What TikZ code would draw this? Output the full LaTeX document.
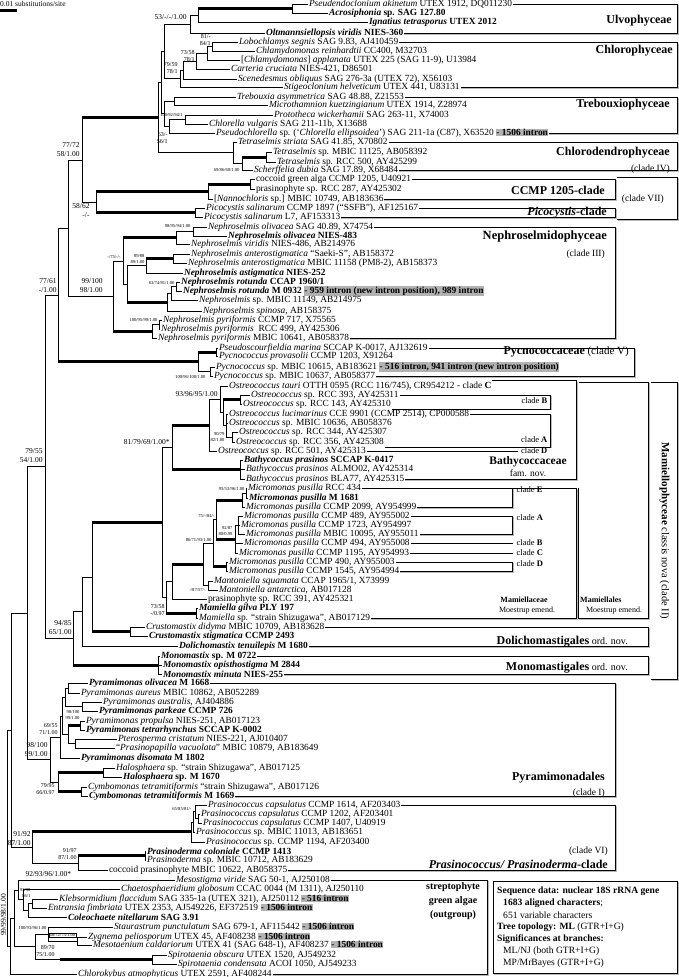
\documentclass[tikz,border=0pt]{standalone}
\usepackage{fontspec}
\setmainfont{Liberation Serif}
\usetikzlibrary{calc}
\definecolor{hlgray}{gray}{0.70}
\newcommand\hlt[1]{{\setlength{\fboxsep}{0.3pt}\colorbox{hlgray}{#1}}}
\newcommand\lf[4]{\coordinate (#1) at (#2,#3);\node[leaf] (#1-l) at (#1) {#4};}
\newcommand\kid[2]{\draw[br] (#1) |- (#2);}
\newcommand\kidt[2]{\draw[br] (#1) |- (#2);\draw[thk] (#1 |- #2) -- (#2);}
\newcommand\brk[3]{%
 \draw[bshade] ($(#1.east -| #3)+(1.2,1.2)$) -- ($(#2.east -| #3)+(1.2,1.2)$) -- ($(#2.east)+(0,1.2)$);
 \draw[bline] (#1.east) -- (#1.east -| #3) -- (#2.east -| #3) -- (#2.east);}
\begin{document}
\begin{tikzpicture}[x=1pt,y=-1pt,
 br/.style={line width=0.6pt},
 thk/.style={line width=3pt},
 leaf/.style={anchor=west, inner sep=0.8pt, font=\fontsize{9.4}{10}\selectfont},
 bs/.style={anchor=east, inner sep=0.3pt, align=right, font=\fontsize{7.5}{9}\selectfont},
 bsm/.style={anchor=east, inner sep=0.3pt, align=right, font=\fontsize{6}{7}\selectfont},
 bst/.style={anchor=east, inner sep=0.3pt, align=right, font=\fontsize{4.6}{5.2}\selectfont},
 bline/.style={line width=0.5pt},
 bshade/.style={line width=1.2pt, gray!55},
 cls/.style={inner sep=0pt, font=\fontsize{12}{13}\selectfont\bfseries},
 sub/.style={inner sep=0pt, font=\fontsize{9.5}{11}\selectfont},
 cl/.style={inner sep=0.5pt, font=\fontsize{8.5}{9}\selectfont},
 seq/.style={anchor=west, inner sep=0pt, font=\fontsize{9.6}{10}\selectfont}]
\useasboundingbox (0,0) rectangle (679,977);

% scale bar
\node[anchor=west, inner sep=0pt, font=\fontsize{7.5}{8}\selectfont] (scl) at (0,3.5) {0.01 substitutions/site};
\coordinate (sb1) at (0,10); \coordinate (sb2) at (17,10);
\draw[line width=3pt] (sb1) -- (sb2);

% ---------------- leaves
\lf{pseud}{308}{4}{\textit{Pseudendoclonium akinetum} UTEX 1912, DQ011230}
\lf{acros}{328}{13}{\textbf{\textit{Acrosiphonia} sp. SAG 127.80}}
\lf{ignat}{368}{22}{\textbf{\textit{Ignatius tetrasporus} UTEX 2012}}
\lf{oltm}{265}{33}{\textbf{\textit{Oltmannsiellopsis viridis} NIES-360}}
\lf{lobo}{238}{42}{\textit{Lobochlamys segnis} SAG 9.83, AJ410459}
\lf{chlre}{255}{51}{\textit{Chlamydomonas reinhardtii} CC400, M32703}
\lf{appl}{240}{60}{[\textit{Chlamydomonas}] \textit{applanata} UTEX 225 (SAG 11-9), U13984}
\lf{cart}{230}{69}{\textit{Carteria cruciata} NIES-421, D86501}
\lf{scen}{237}{79}{\textit{Scenedesmus obliquus} SAG 276-3a (UTEX 72), X56103}
\lf{stig}{283}{87}{\textit{Stigeoclonium helveticum} UTEX 441, U83131}
\lf{treb}{236}{97}{\textit{Trebouxia asymmetrica} SAG 48.88, Z21553}
\lf{micr}{268}{105}{\textit{Microthamnion kuetzingianum} UTEX 1914, Z28974}
\lf{prot}{273}{115}{\textit{Prototheca wickerhamii} SAG 263-11, X74003}
\lf{chlv}{208}{124}{\textit{Chlorella vulgaris} SAG 211-11b, X13688}
\lf{pchl}{215}{133}{\textit{Pseudochlorella} sp. (`\textit{Chlorella ellipsoidea}') SAG 211-1a (C87), X63520 \hlt{\textbf{- 1506 intron}}}
\lf{tstr}{237}{142}{\textit{Tetraselmis striata} SAG 41.85, X70802}
\lf{tmb}{272}{152}{\textit{Tetraselmis} sp. MBIC 11125, AB058392}
\lf{trcc}{276}{162}{\textit{Tetraselmis} sp. RCC 500, AY425299}
\lf{sche}{253}{170}{\textit{Scherffelia dubia} SAG 17.89, X68484}
\lf{cocc}{255}{179}{coccoid green alga CCMP 1205, U40921}
\lf{pras287}{255}{189}{prasinophyte sp. RCC 287, AY425302}
\lf{nanno}{213}{199}{[\textit{Nannochloris} sp.] MBIC 10749, AB183636}
\lf{pic1}{205}{208}{\textit{Picocystis salinarum} CCMP 1897 (``SSFB''), AF125167}
\lf{pic2}{203}{217}{\textit{Picocystis salinarum} L7, AF153313}
\lf{nol1}{207}{227}{\textit{Nephroselmis olivacea} SAG 40.89, X74754}
\lf{nol2}{227}{236}{\textbf{\textit{Nephroselmis olivacea} NIES-483}}
\lf{nvir}{190}{244}{\textit{Nephroselmis viridis} NIES-486, AB214976}
\lf{nant1}{190}{254}{\textit{Nephroselmis anterostigmatica} ``Saeki-S'', AB158372}
\lf{nant2}{187}{263}{\textit{Nephroselmis anterostigmatica} MBIC 11158 (PM8-2), AB158373}
\lf{nast}{183}{273}{\textbf{\textit{Nephroselmis astigmatica} NIES-252}}
\lf{nrot1}{180}{282}{\textbf{\textit{Nephroselmis rotunda} CCAP 1960/1}}
\lf{nrot2}{182}{291}{\textbf{\textit{Nephroselmis rotunda} M 0932} \hlt{\textbf{- 959 intron (new intron position), 989 intron}}}
\lf{nsp}{198}{300}{\textit{Nephroselmis} sp. MBIC 11149, AB214975}
\lf{nspi}{202}{311}{\textit{Nephroselmis spinosa}, AB158375}
\lf{npyr1}{162}{320}{\textit{Nephroselmis pyriformis} CCMP 717, X75565}
\lf{npyr2}{160}{329}{\textit{Nephroselmis pyriformis} \ RCC 499, AY425306}
\lf{npyr3}{157}{338}{\textit{Nephroselmis pyriformis} MBIC 10641, AB058378}
\lf{pmar}{218}{348}{\textit{Pseudoscourfieldia marina} SCCAP K-0017, AJ132619}
\lf{pprov}{218}{356}{\textit{Pycnococcus provasolii} CCMP 1203, X91264}
\lf{pyc1}{215}{367}{\textit{Pycnococcus} sp. MBIC 10615, AB183621 \hlt{\textbf{- 516 intron, 941 intron (new intron position)}}}
\lf{pyc2}{213}{376}{\textit{Pycnococcus} sp. MBIC 10637, AB058377}
\lf{otau}{228}{386}{\textit{Ostreococcus tauri} OTTH 0595 (RCC 116/745), CR954212 - clade \textbf{C}}
\lf{o393}{250}{395}{\textit{Ostreococcus} sp. RCC 393, AY425311}
\lf{o143}{242}{404}{\textit{Ostreococcus} sp. RCC 143, AY425310}
\lf{oluc}{228}{414}{\textit{Ostreococcus lucimarinus} CCE 9901 (CCMP 2514), CP000588}
\lf{o10636}{228}{423}{\textit{Ostreococcus} sp. MBIC 10636, AB058376}
\lf{o344}{238}{432}{\textit{Ostreococcus} sp. RCC 344, AY425307}
\lf{o356}{235}{442}{\textit{Ostreococcus} sp. RCC 356, AY425308}
\lf{o501}{217}{451}{\textit{Ostreococcus} sp. RCC 501, AY425313}
\lf{bsc}{243}{460}{\textbf{\textit{Bathycoccus prasinos} SCCAP K-0417}}
\lf{bal}{245}{469}{\textit{Bathycoccus prasinos} ALMO02, AY425314}
\lf{bbl}{245}{479}{\textit{Bathycoccus prasinos} BLA77, AY425315}
\lf{m434}{247}{488}{\textit{Micromonas pusilla} RCC 434}
\lf{m1681}{248}{498}{\textbf{\textit{Micromonas pusilla} M 1681}}
\lf{m2099}{245}{507}{\textit{Micromonas pusilla} CCMP 2099, AY954999}
\lf{m489}{243}{516}{\textit{Micromonas pusilla} CCMP 489, AY955002}
\lf{m1723}{240}{525}{\textit{Micromonas pusilla} CCMP 1723, AY954997}
\lf{m10095}{245}{534}{\textit{Micromonas pusilla} MBIC 10095, AY955011}
\lf{m494}{243}{543}{\textit{Micromonas pusilla} CCMP 494, AY955008}
\lf{m1195}{238}{553}{\textit{Micromonas pusilla} CCMP 1195, AY954993}
\lf{m490}{228}{562}{\textit{Micromonas pusilla} CCMP 490, AY955003}
\lf{m1545}{228}{571}{\textit{Micromonas pusilla} CCMP 1545, AY954994}
\lf{mant1}{213}{581}{\textit{Mantoniella squamata} CCAP 1965/1, X73999}
\lf{mant2}{218}{590}{\textit{Mantoniella antarctica}, AB017128}
\lf{p391}{207}{599}{prasinophyte sp. RCC 391, AY425321}
\lf{mgil}{198}{608}{\textbf{\textit{Mamiella gilva} PLY 197}}
\lf{msh}{198}{618}{\textit{Mamiella} sp. ``strain Shizugawa'', AB017129}
\lf{cdid}{145}{627}{\textit{Crustomastix didyma} MBIC 10709, AB183628}
\lf{cstig}{148}{636}{\textbf{\textit{Crustomastix stigmatica} CCMP 2493}}
\lf{dten}{178}{646}{\textbf{\textit{Dolichomastix tenuilepis} M 1680}}
\lf{mo1}{160}{656}{\textbf{\textit{Monomastix} sp. M 0722}}
\lf{mo2}{162}{665}{\textbf{\textit{Monomastix opisthostigma} M 2844}}
\lf{mo3}{162}{674}{\textbf{\textit{Monomastix minuta} NIES-255}}
\lf{pol}{88}{683}{\textbf{\textit{Pyramimonas olivacea} M 1668}}
\lf{pau}{80}{693}{\textit{Pyramimonas aureus} MBIC 10862, AB052289}
\lf{paus}{102}{702}{\textit{Pyramimonas australis}, AJ404886}
\lf{ppar}{98}{711}{\textbf{\textit{Pyramimonas parkeae} CCMP 726}}
\lf{ppro}{85}{721}{\textit{Pyramimonas propulsa} NIES-251, AB017123}
\lf{ptet}{85}{730}{\textbf{\textit{Pyramimonas tetrarhynchus} SCCAP K-0002}}
\lf{pter}{117}{739}{\textit{Pterosperma cristatum} NIES-221, AJ010407}
\lf{ppap}{115}{748}{``\textit{Prasinopapilla vacuolata}'' MBIC 10879, AB183649}
\lf{pdis}{80}{758}{\textbf{\textit{Pyramimonas disomata} M 1802}}
\lf{hal1}{115}{768}{\textit{Halosphaera} sp. ``strain Shizugawa'', AB017125}
\lf{hal2}{122}{777}{\textbf{\textit{Halosphaera} sp. M 1670}}
\lf{cym1}{87}{787}{\textit{Cymbomonas tetramitiformis} ``strain Shizugawa'', AB017126}
\lf{cym2}{88}{796}{\textbf{\textit{Cymbomonas tetramitiformis} M 1669}}
\lf{pc1614}{207}{805}{\textit{Prasinococcus capsulatus} CCMP 1614, AF203403}
\lf{pc1202}{200}{814}{\textit{Prasinococcus capsulatus} CCMP 1202, AF203401}
\lf{pc1407}{202}{823}{\textit{Prasinococcus capsulatus} CCMP 1407, U40919}
\lf{pc11013}{195}{832}{\textit{Prasinococcus} sp. MBIC 11013, AB183651}
\lf{pc1194}{205}{842}{\textit{Prasinococcus} sp. CCMP 1194, AF203400}
\lf{pdcol}{146}{851}{\textbf{\textit{Prasinoderma coloniale} CCMP 1413}}
\lf{pdsp}{146}{860.5}{\textit{Prasinoderma} sp. MBIC 10712, AB183629}
\lf{cocc2}{108}{870}{coccoid prasinophyte MBIC 10622, AB058375}
\lf{meso}{175}{880}{\textit{Mesostigma viride} SAG 50-1, AJ250108}
\lf{chae}{120}{889}{\textit{Chaetosphaeridium globosum} CCAC 0044 (M 1311), AJ250110}
\lf{kleb}{58}{899}{\textit{Klebsormidium flaccidum} SAG 335-1a (UTEX 321), AJ250112 \hlt{\textbf{- 516 intron}}}
\lf{entr}{47}{908}{\textit{Entransia fimbriata} UTEX 2353, AJ549226, EF372519 \hlt{\textbf{- 1506 intron}}}
\lf{cole}{67}{917}{\textbf{\textit{Coleochaete nitellarum} SAG 3.91}}
\lf{stau}{113}{927}{\textit{Staurastrum punctulatum} SAG 679-1, AF115442 \hlt{\textbf{- 1506 intron}}}
\lf{zyg}{87}{937}{\textit{Zygnema peliosporum} UTEX 45, AF408238 \hlt{\textbf{- 1506 intron}}}
\lf{meso2}{92}{945}{\textit{Mesotaenium caldariorum} UTEX 41 (SAG 648-1), AF408237 \hlt{\textbf{- 1506 intron}}}
\lf{spo}{167}{955}{\textit{Spirotaenia obscura} UTEX 1520, AJ549232}
\lf{spc}{177}{964}{\textit{Spirotaenia condensata} ACOI 1050, AJ549233}
\lf{chk}{77}{974}{\textit{Chlorokybus atmophyticus} UTEX 2591, AF408244}

% ---------------- internal nodes
\coordinate (U1) at (292,8.5);  \coordinate (U2) at (198,15.25); \coordinate (U3) at (190,24.1);
\coordinate (C1) at (212,46.5); \coordinate (C2) at (207,53.25); \coordinate (C3) at (196,61.1);
\coordinate (C4) at (183,70);   \coordinate (C5) at (180,78.5);  \coordinate (UC) at (164,51.3);
\coordinate (T1) at (174,101);  \coordinate (T2) at (185,119.5); \coordinate (T3) at (169,126.25);
\coordinate (T4) at (164,113.6); \coordinate (X) at (161,82.5);
\coordinate (CD1) at (266,157); \coordinate (CD2) at (242,163.5); \coordinate (CD3) at (233,152.75);
\coordinate (CORE) at (158,117.6);
\coordinate (P1) at (250,184); \coordinate (P2) at (208,191.5); \coordinate (P4) at (195,212.5);
\coordinate (P3) at (96,202); \coordinate (N0) at (82,159.8);
\coordinate (Nf1) at (193,231.5); \coordinate (Nf2) at (176,237.75);
\coordinate (Na1) at (173,258.5); \coordinate (Na2) at (146,265.75);
\coordinate (Nr1) at (176,286.5); \coordinate (Nr2) at (171,293.25); \coordinate (Nr3) at (167,302.1);
\coordinate (Na3) at (127,283.9); \coordinate (Nf3) at (123,260.8);
\coordinate (Np1) at (159,324.5); \coordinate (Np2) at (152,331.25);
\coordinate (NR) at (113,296); \coordinate (N1) at (68,227.9);
\coordinate (Py1) at (216,352); \coordinate (Py2) at (210,371.5); \coordinate (Py3) at (198,361.75);
\coordinate (N2) at (58,294.8);
\coordinate (Ob1) at (240,399.5); \coordinate (Oa1) at (232,437); \coordinate (Oa2) at (226,425.5);
\coordinate (Oab) at (223,412.5); \coordinate (Os1) at (220,399.25); \coordinate (Os2) at (209,425.1);
\coordinate (Ba1) at (240,469.5); \coordinate (Mam1) at (172,447.3);
\coordinate (Mc1) at (246,493); \coordinate (Mc2) at (242,500);
\coordinate (McA1) at (238,525); \coordinate (McABC) at (235,539);
\coordinate (Mc3) at (216,519.5); \coordinate (McD) at (226,566.5); \coordinate (Mc4) at (213,543);
\coordinate (Mt1) at (208,585.5); \coordinate (Mt2) at (203,564.25); \coordinate (Mt3) at (172,581.6);
\coordinate (Mg1) at (196,613); \coordinate (Mam2) at (166,597.3); \coordinate (Mam3) at (162,522.3);
\coordinate (Cr1) at (130,631.5); \coordinate (Cr2) at (92,576.9); \coordinate (Cr3) at (82,611.45);
\coordinate (Mo1) at (158,665); \coordinate (D1) at (73,638.2); \coordinate (R3) at (45,466.5);
\coordinate (Pya) at (68,688); \coordinate (Pyb) at (82,706.5); \coordinate (Pye) at (65,697.25);
\coordinate (Pyc) at (80,725.5); \coordinate (Pt) at (75,743.5); \coordinate (Pyd) at (68,734.5);
\coordinate (Pyf) at (62,715.9); \coordinate (Pyg) at (60,736.9);
\coordinate (Ha) at (103,772.5); \coordinate (Cy) at (81,791.5); \coordinate (Hc) at (58,782);
\coordinate (PyR) at (50,759.5); \coordinate (R2) at (27,613);
\coordinate (Pc1) at (198,818.5); \coordinate (Pc2) at (195,811.75); \coordinate (Pc3) at (193,821.9);
\coordinate (Pc4) at (191,831.9); \coordinate (Pd1) at (145,855.75); \coordinate (Pd2) at (78,862.9);
\coordinate (PrR) at (32,847.4); \coordinate (R1) at (11,730.2);
\coordinate (K1) at (32,903.5); \coordinate (K2) at (28,910.25); \coordinate (K3) at (23,899.6);
\coordinate (K4) at (18,889.8); \coordinate (Zm) at (77,941); \coordinate (Zs) at (48,934);
\coordinate (Sp) at (152,959.5); \coordinate (spk) at (60,959.5); \coordinate (Zs2) at (35,946.75);
\coordinate (K5) at (14,918.3); \coordinate (Sroot) at (10,946.1); \coordinate (R0) at (7,838.2);

% ---------------- branches
\kidt{U2}{U1}\kid{U1}{pseud}\kid{U1}{acros}\kid{U2}{ignat}
\kid{U3}{U2}\kid{U3}{oltm}
\kid{C1}{lobo}\kid{C1}{chlre}\kid{C2}{C1}\kid{C2}{appl}\kid{C3}{C2}\kid{C3}{cart}
\kid{C4}{C3}\kid{C4}{scen}\kid{C5}{C4}\kid{C5}{stig}\kid{UC}{U3}\kid{UC}{C5}
\kid{T1}{treb}\kid{T1}{micr}\kid{T2}{prot}\kid{T2}{chlv}\kid{T3}{T2}\kid{T3}{pchl}
\kid{T4}{T1}\kid{T4}{T3}\kid{X}{UC}\kid{X}{T4}
\kid{CD1}{tmb}\kid{CD1}{trcc}\kidt{CD2}{CD1}\kid{CD2}{sche}\kid{CD3}{tstr}\kid{CD3}{CD2}
\kid{CORE}{X}\kid{CORE}{CD3}
\kid{P1}{cocc}\kid{P1}{pras287}\kidt{P2}{P1}\kid{P2}{nanno}\kid{P4}{pic1}\kid{P4}{pic2}
\kidt{P3}{P2}\kidt{P3}{P4}\kidt{N0}{CORE}\kid{N0}{P3}
\kid{Nf1}{nol1}\kid{Nf1}{nol2}\kid{Nf2}{Nf1}\kid{Nf2}{nvir}
\kid{Na1}{nant1}\kid{Na1}{nant2}\kidt{Na2}{Na1}\kid{Na2}{nast}
\kid{Nr1}{nrot1}\kid{Nr1}{nrot2}\kid{Nr2}{Nr1}\kid{Nr2}{nsp}\kid{Nr3}{Nr2}\kid{Nr3}{nspi}
\kid{Na3}{Na2}\kidt{Na3}{Nr3}\kidt{Nf3}{Nf2}\kid{Nf3}{Na3}
\kid{Np1}{npyr1}\kid{Np1}{npyr2}\kid{Np2}{Np1}\kid{Np2}{npyr3}
\kid{NR}{Nf3}\kidt{NR}{Np2}\kid{N1}{N0}\kid{N1}{NR}
\kid{Py1}{pmar}\kid{Py1}{pprov}\kid{Py2}{pyc1}\kid{Py2}{pyc2}\kidt{Py3}{Py1}\kid{Py3}{Py2}
\kid{N2}{N1}\kidt{N2}{Py3}
\kid{Ob1}{o393}\kid{Ob1}{o143}\kid{Oa1}{o344}\kid{Oa1}{o356}
\kid{Oa2}{oluc}\kid{Oa2}{o10636}\kid{Oa2}{Oa1}\kidt{Oab}{Ob1}\kid{Oab}{Oa2}
\kid{Os1}{otau}\kid{Os1}{Oab}\kid{Os2}{Os1}\kid{Os2}{o501}
\kid{Ba1}{bsc}\kid{Ba1}{bal}\kid{Ba1}{bbl}\kidt{Mam1}{Os2}\kidt{Mam1}{Ba1}
\kid{Mc1}{m434}\kid{Mc1}{m1681}\kid{Mc2}{Mc1}\kid{Mc2}{m2099}
\kid{McA1}{m489}\kid{McA1}{m1723}\kid{McA1}{m10095}
\kid{McABC}{McA1}\kid{McABC}{m494}\kid{McABC}{m1195}
\kidt{Mc3}{Mc2}\kidt{Mc3}{McABC}\kid{McD}{m490}\kid{McD}{m1545}\kid{Mc4}{Mc3}\kidt{Mc4}{McD}
\kid{Mt1}{mant1}\kid{Mt1}{mant2}\kid{Mt2}{Mc4}\kid{Mt2}{Mt1}\kidt{Mt3}{Mt2}\kid{Mt3}{p391}
\kid{Mg1}{mgil}\kid{Mg1}{msh}\kid{Mam2}{Mt3}\kidt{Mam2}{Mg1}\kid{Mam3}{Mam1}\kid{Mam3}{Mam2}
\kid{Cr1}{cdid}\kid{Cr1}{cstig}\kidt{Cr2}{Mam3}\kidt{Cr2}{Cr1}\kid{Cr3}{Cr2}\kid{Cr3}{dten}
\kid{Mo1}{mo1}\kid{Mo1}{mo2}\kid{Mo1}{mo3}\kid{D1}{Cr3}\kidt{D1}{Mo1}
\kid{R3}{N2}\kid{R3}{D1}
\kid{Pya}{pol}\kid{Pya}{pau}\kid{Pyb}{paus}\kid{Pyb}{ppar}\kid{Pye}{Pya}\kid{Pye}{Pyb}
\kid{Pyc}{ppro}\kid{Pyc}{ptet}\kid{Pt}{pter}\kid{Pt}{ppap}\kidt{Pyd}{Pyc}\kid{Pyd}{Pt}
\kid{Pyf}{Pye}\kid{Pyf}{Pyd}\kid{Pyg}{Pyf}\kid{Pyg}{pdis}
\kid{Ha}{hal1}\kid{Ha}{hal2}\kid{Cy}{cym1}\kid{Cy}{cym2}\kidt{Hc}{Ha}\kidt{Hc}{Cy}
\kid{PyR}{Pyg}\kid{PyR}{Hc}\kid{R2}{R3}\kid{R2}{PyR}
\kid{Pc1}{pc1202}\kid{Pc1}{pc1407}\kid{Pc2}{pc1614}\kid{Pc2}{Pc1}\kid{Pc3}{Pc2}\kid{Pc3}{pc11013}
\kid{Pc4}{Pc3}\kid{Pc4}{pc1194}\kid{Pd1}{pdcol}\kid{Pd1}{pdsp}\kidt{Pd2}{Pd1}\kid{Pd2}{cocc2}
\kidt{PrR}{Pc4}\kid{PrR}{Pd2}\kid{R1}{R2}\kid{R1}{PrR}
\kid{K1}{kleb}\kid{K1}{entr}\kid{K2}{K1}\kid{K2}{cole}\kid{K3}{chae}\kid{K3}{K2}
\kid{K4}{meso}\kid{K4}{K3}\kid{Zm}{zyg}\kid{Zm}{meso2}\kid{Zs}{stau}\kid{Zs}{Zm}
\kid{Sp}{spo}\kid{Sp}{spc}\kid{Zs2}{Zs}\kid{Zs2}{Sp}\draw[thk] (spk) -- (Sp);
\kid{K5}{K4}\kid{K5}{Zs2}\kid{Sroot}{K5}\kid{Sroot}{chk}\kid{R0}{R1}\kid{R0}{Sroot}

% ---------------- support values
\node[bs] at (187,17) {53/-/-/1.00};
\node[bsm] at (211,40) {81/-\\84/1};
\node[bsm] at (195,56) {73/58\\78/1};
\node[bsm] at (178,68) {79/59\\78/1};
\node[bst] at (183,115) {100/92/94/1};
\node[bsm] at (168,138) {63/-\\56/1};
\node[bs] at (80,150) {77/72\\58/1.00};
\node[bst] at (240,170) {69/86/60/1.00};
\node[bs] at (90,211) {58/62\\-/-};
\node[bst] at (191,226) {98/95/94/1.00};
\node[bst] at (121,257) {-/75/-/-};
\node[bst] at (145,259) {89/88\\89/1.00};
\node[bs] at (57,286) {77/61\\-/1.00};
\node[bs] at (103,286) {99/100\\98/1.00};
\node[bst] at (175,283) {63/74/81/1.00};
\node[bst] at (158,320) {100/95/99/1.00};
\node[bst] at (206,377) {100/96/100/1.00};
\node[bs] at (218,394) {93/96/95/1.00};
\node[bst] at (225,437) {90/79\\82/1.00};
\node[bs] at (170,442) {81/79/69/1.00*};
\node[bs] at (43,456) {79/55\\54/1.00};
\node[bst] at (245,489) {95/53/96/1.00};
\node[bst] at (215,516) {75/-/84/-};
\node[bst] at (233,531) {92/87\\80/0.99};
\node[bst] at (212,540) {86/71/93/1.00};
\node[bst] at (206,590) {-/87/57/-};
\node[bsm] at (165,610) {73/58\\-/0.97};
\node[bs] at (72,628) {94/85\\65/1.00};
\node[bst] at (80,715) {98/100\\99/1.00};
\node[bsm] at (58,729) {69/55\\71/1.00};
\node[bs] at (48,750) {98/100\\99/1.00};
\node[bsm] at (55,789) {79/95\\66/0.97};
\node[bst] at (192,809) {65/85/81/-};
\node[bs] at (31,839) {91/92\\87/1.00};
\node[bsm] at (77,854) {91/97\\87/1.00};
\node[bs, anchor=west] at (25,874) {92/93/96/1.00*};
\node[bst] at (31,893) {93/98\\86/1};
\node[bst] at (47,928) {100/93/96/1.00};
\node[bst, draw, line width=0.3pt, inner sep=0.6pt] at (76,935) {68/72/75/1.00};
\node[bsm] at (55,951) {89/70\\75/1.00};
\node[bs, anchor=center, rotate=90, fill=white, inner sep=0.5pt] at (3.5,915) {99/99/98/1.00};

% ---------------- brackets / boxes
\coordinate (xA) at (677,0); \coordinate (xB) at (615,0); \coordinate (xC) at (634,0);
\coordinate (xD) at (550,0); \coordinate (xE) at (576,0); \coordinate (xF) at (512,0);
\coordinate (xG) at (648,0); \coordinate (xH) at (487,0);
\brk{pseud-l}{oltm-l}{xA}
\brk{lobo-l}{stig-l}{xA}
\brk{treb-l}{pchl-l}{xA}
\brk{tstr-l}{sche-l}{xA}
\brk{cocc-l}{nanno-l}{xB}
\brk{pic1-l}{pic2-l}{xB}
\draw[bshade] (678.2,178.2) -- (678.2,220.2) -- (618,220.2);
\draw[bline] (617,177) -- (677,177) -- (677,219) -- (617,219);
\brk{nol1-l}{npyr3-l}{xB}
\brk{pmar-l}{pyc2-l}{xC}
% Ostreococcus clades
\draw[bshade] (551.2,396.2) -- (551.2,409.2) -- (o143-l.south east |- 0,409.2);
\draw[bline] (o393-l.east) -- (o393-l.east -| xD) -- (xD |- o143-l.south east) -- (o143-l.south east);
\draw[bshade] (551.2,415.2) -- (551.2,447.2) -- (o356-l.south east |- 0,447.2);
\draw[bline] (oluc-l.east) -- (oluc-l.east -| xD) -- (xD |- o356-l.south east) -- (o356-l.south east);
\node[cl, anchor=east] (cOB) at (548,401) {clade \textbf{B}};
\node[cl, anchor=east] (cOA) at (548,440) {clade \textbf{A}};
\node[cl, anchor=east] (cOD) at (548,451) {clade \textbf{D}};
\draw[bline] (o501-l.east) -- ([xshift=-2pt]cOD.west);
% Bathycoccaceae
\draw[bshade] ($(otau-l.north east -| xE)+(1.2,1.2)$) -- ($(bbl-l.east -| xE)+(1.2,1.2)$) -- ($(bbl-l.east)+(0,1.2)$);
\draw[bline] (otau-l.north east) -- (otau-l.north east -| xE) -- (bbl-l.east -| xE) -- (bbl-l.east);
\node[inner sep=0pt, font=\fontsize{11.5}{12}\selectfont\bfseries] (bathy) at (528,462) {Bathycoccaceae};
\node[sub] (bathyf) at (528,473) {fam. nov.};
% Micromonas clades
\brk{m434-l}{msh-l}{xE}
\brk{m434-l}{m2099-l}{xF}
\brk{m489-l}{m10095-l}{xF}
\brk{m490-l}{m1545-l}{xF}
\node[cl, anchor=west] (cME) at (516,490) {clade \textbf{E}};
\node[cl, anchor=west] (cMA) at (516,518) {clade \textbf{A}};
\node[cl, anchor=west] (cMB) at (516,543) {clade \textbf{B}};
\node[cl, anchor=west] (cMC) at (516,553) {clade \textbf{C}};
\node[cl, anchor=west] (cMD) at (516,564) {clade \textbf{D}};
\draw[bline] (m494-l.east) -- ([xshift=-3pt]cMB.west);
\draw[bline] (m1195-l.east) -- ([xshift=-3pt]cMC.west);
\node[inner sep=0pt, font=\fontsize{8}{9}\selectfont\bfseries] (mcae) at (524,600) {Mamiellaceae};
\node[inner sep=0pt, font=\fontsize{8}{9}\selectfont] (mcaem) at (527,611) {Moestrup emend.};
% Mamiellales box
\draw[bshade] (649.2,383.2) -- (649.2,619.2) -- (579,619.2);
\draw[bline] (579,382) -- (648,382) -- (648,618) -- (578,618) -- (578,488);
\node[inner sep=0pt, font=\fontsize{8}{9}\selectfont\bfseries, anchor=west] (mles) at (580,600) {Mamiellales};
\node[inner sep=0pt, font=\fontsize{8}{9}\selectfont] (mlesm) at (614,611) {Moestrup emend.};
% Dolicho / Mono
\brk{cdid-l}{dten-l}{xG}
\brk{mo1-l}{mo3-l}{xG}
\node[inner sep=0pt, anchor=east] (dol) at (628,642) {{\fontsize{12}{13}\selectfont\bfseries Dolichomastigales}{\fontsize{10}{11}\selectfont\ ord. nov.}};
\node[inner sep=0pt, anchor=east] (mon) at (628,668) {{\fontsize{12}{13}\selectfont\bfseries Monomastigales}{\fontsize{10}{11}\selectfont\ ord. nov.}};
% outer Mamiellophyceae
\draw[bshade] (678.2,383.2) -- (678.2,680.2) -- (652,680.2);
\draw[bline] (651,382) -- (677,382) -- (677,679) -- (651,679);
\node[inner sep=0pt, rotate=-90] (mph) at (664.5,531) {{\fontsize{11}{12}\selectfont\bfseries Mamiellophyceae}{\fontsize{10.5}{12}\selectfont\ classis nova (clade II)}};
% Pyramimonadales, Prasinococcus, streptophytes
\brk{pol-l}{cym2-l}{xB}
\brk{pc1614-l}{cocc2-l}{xB}
\brk{meso-l}{chk-l}{xH}
% sequence box
\draw[bshade] (678.2,882.2) -- (678.2,974.2) -- (494.2,974.2);
\draw[bline] (493,881) rectangle (677,973);

% ---------------- group labels
\node[cls, anchor=east] (lU) at (672,21) {Ulvophyceae};
\node[cls, anchor=east] (lC) at (673,51) {Chlorophyceae};
\node[cls, anchor=east] (lT) at (670,105) {Trebouxiophyceae};
\node[cls, anchor=east] (lCD) at (670,153) {Chlorodendrophyceae};
\node[sub, anchor=east] (lCD2) at (670,169) {(clade IV)};
\node[cls, anchor=east] (lCC) at (605,190) {CCMP 1205-clade};
\node[cls, anchor=east] (lPi) at (607,213) {\textit{Picocystis}-clade};
\node[sub, anchor=east] (lVII) at (664,199) {(clade VII)};
\node[cls, anchor=east, font=\fontsize{12.5}{13}\selectfont\bfseries] (lN) at (607,237) {Nephroselmidophyceae};
\node[sub, anchor=east] (lN2) at (605,254) {(clade III)};
\node[inner sep=0pt, anchor=east] (lPy) at (629,352) {{\fontsize{12}{13}\selectfont\bfseries Pycnococcaceae}{\fontsize{11}{12}\selectfont\ (clade V)}};
\node[cls, anchor=east] (lPyr) at (605,778) {Pyramimonadales};
\node[sub, anchor=east] (lPyr2) at (605,793) {(clade I)};
\node[sub, anchor=east] (lVI) at (608,851) {(clade VI)};
\node[cls, anchor=east] (lPr) at (608,864) {\textit{Prasinococcus/ Prasinoderma}-clade};
\node[inner sep=0pt, align=center, font=\fontsize{10}{14}\selectfont\bfseries] (lSt) at (453,901) {streptophyte\\green algae\\(outgroup)};
\node[seq] (q1) at (497,891) {\textbf{Sequence data: nuclear 18S rRNA gene}};
\node[seq] (q2) at (503,903) {\textbf{1683 aligned characters};};
\node[seq] (q3) at (503,915) {651 variable characters};
\node[seq] (q4) at (497,927) {\textbf{Tree topology: ML} (GTR+I+G)};
\node[seq] (q5) at (497,939) {\textbf{Significances at branches:}};
\node[seq] (q6) at (503,951) {ML/NJ (both GTR+I+G)};
\node[seq] (q7) at (503,963) {MP/MrBayes (GTR+I+G)};
\end{tikzpicture}
\end{document}
